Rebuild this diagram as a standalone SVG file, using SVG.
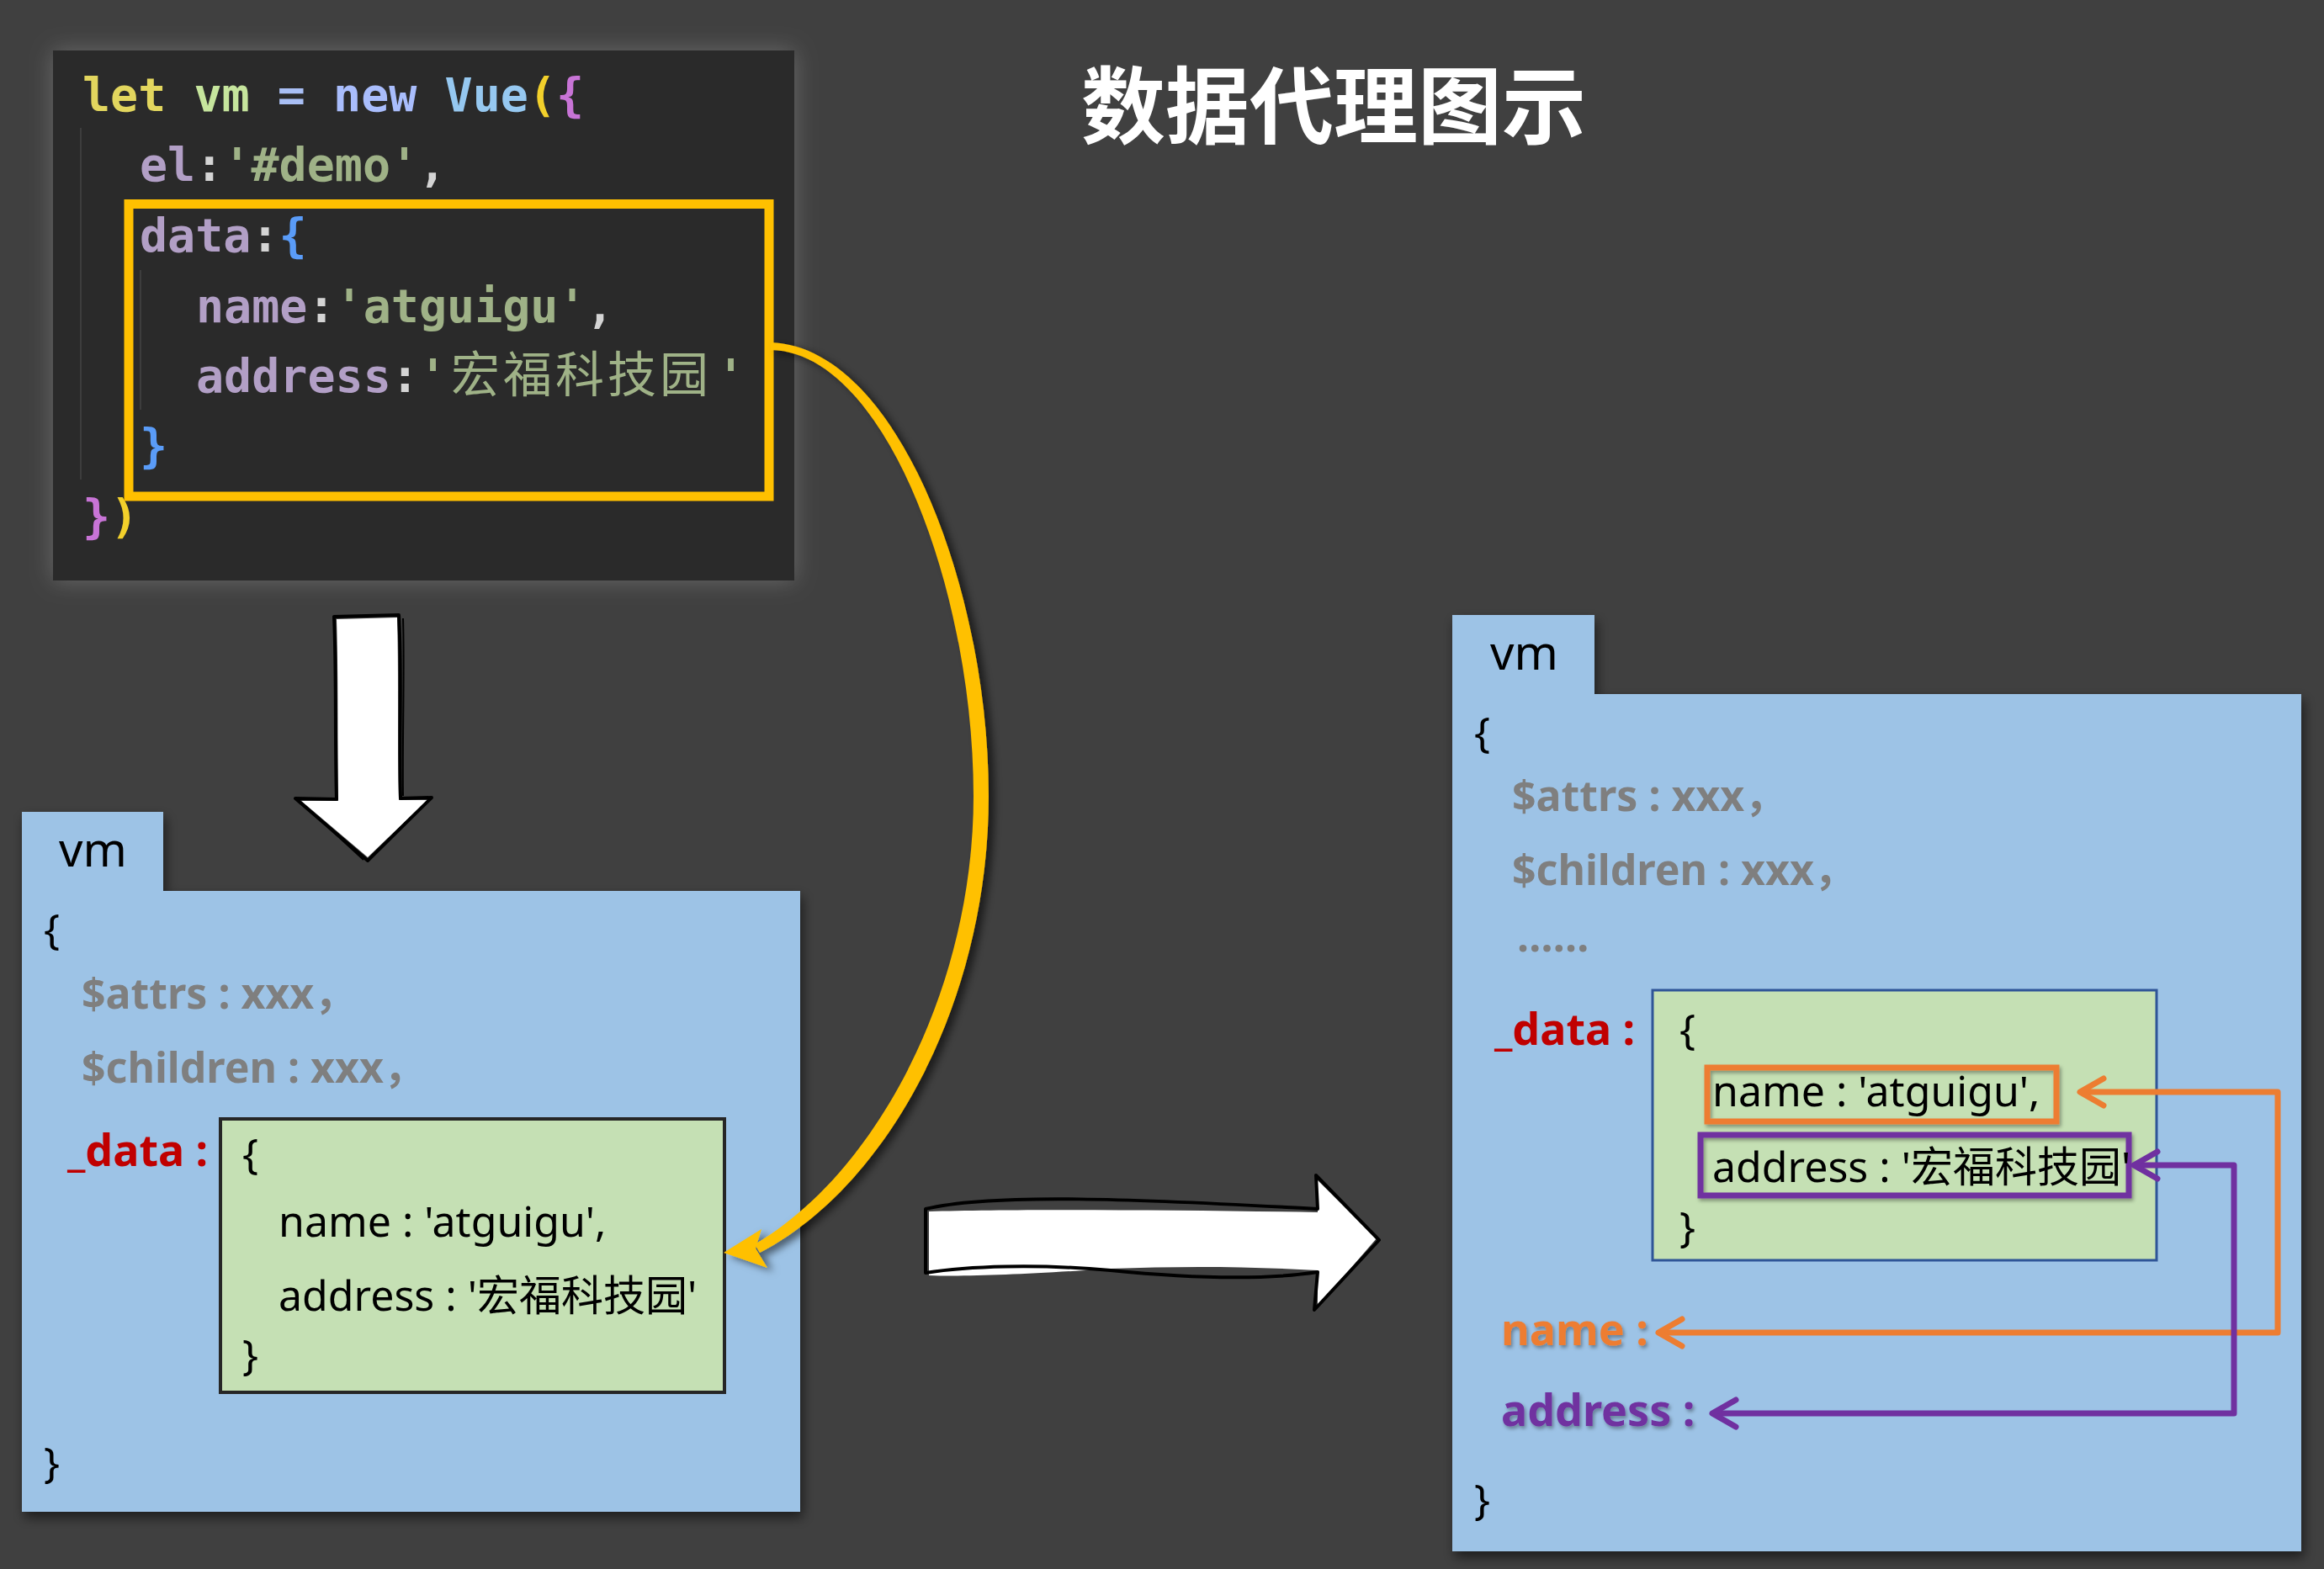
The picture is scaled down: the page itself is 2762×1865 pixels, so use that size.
<svg xmlns="http://www.w3.org/2000/svg" width="2762" height="1865" viewBox="0 0 2762 1865">
<defs>
<style>
.code{font-family:"DejaVu Sans Mono","Liberation Mono",monospace;font-size:55px;font-weight:bold}
.cjkcode{font-family:"Noto Sans CJK SC",sans-serif;font-size:58px;font-weight:normal;letter-spacing:4px}
.t{font-family:"Noto Sans","Noto Sans CJK SC",sans-serif;font-size:50px;fill:#000}
.g{font-family:"Noto Sans","Noto Sans CJK SC",sans-serif;font-size:50px;font-weight:bold;fill:#7f7f7f}
.red{font-family:"Noto Sans",sans-serif;font-size:52px;font-weight:bold;fill:#c00000}
.vm{font-family:"Noto Sans",sans-serif;font-size:56px;fill:#000}
.box{fill:#9dc3e6}
.kw{fill:#e2d65e}.v{fill:#c6e59d}.op{fill:#a9bff5}.nw{fill:#a9bdfc}.cl{fill:#96c8f0}
.py{fill:#f2d02b}.pm{fill:#c874d6}.pr{fill:#b29fc6}.pu{fill:#d4d4d4}.st{fill:#9fb287}.bb{fill:#5a9cf8}
</style>
<filter id="sh" x="-10%" y="-10%" width="120%" height="125%"><feDropShadow dx="3" dy="7" stdDeviation="7" flood-color="#000" flood-opacity="0.55"/></filter>
<filter id="glow" x="-10%" y="-10%" width="120%" height="120%"><feDropShadow dx="0" dy="0" stdDeviation="14" flood-color="#fff" flood-opacity="0.22"/></filter>
<filter id="ts" x="-10%" y="-20%" width="120%" height="150%"><feDropShadow dx="2" dy="3" stdDeviation="2" flood-color="#000" flood-opacity="0.35"/></filter>
<filter id="ysh" x="-20%" y="-10%" width="140%" height="120%"><feDropShadow dx="7" dy="4" stdDeviation="5" flood-color="#000" flood-opacity="0.55"/></filter>
<marker id="mo" viewBox="-40 -22 50 44" refX="0" refY="0" markerWidth="50" markerHeight="44" markerUnits="userSpaceOnUse" orient="auto-start-reverse" overflow="visible"><path d="M -28 -16 L 0 0 L -28 16" fill="none" stroke="#ed7d31" stroke-width="7" stroke-linecap="round" stroke-linejoin="round"/></marker>
<marker id="mp" viewBox="-40 -22 50 44" refX="0" refY="0" markerWidth="50" markerHeight="44" markerUnits="userSpaceOnUse" orient="auto-start-reverse" overflow="visible"><path d="M -28 -16 L 0 0 L -28 16" fill="none" stroke="#7030a0" stroke-width="7" stroke-linecap="round" stroke-linejoin="round"/></marker>
</defs>
<rect x="0" y="0" width="2762" height="1865" fill="#404040"/>

<g id="title">
<text x="1585" y="163" text-anchor="middle" font-family="'Noto Sans CJK SC',sans-serif" font-size="100" font-weight="bold" fill="#fff">数据代理图示</text>
</g>

<g id="code-block">
<rect x="63" y="60" width="881" height="630" fill="#2b2b2b" filter="url(#glow)"/>
<line x1="96" y1="152" x2="96" y2="570" stroke="#3d3d3d" stroke-width="2"/>
<line x1="167" y1="321" x2="167" y2="487" stroke="#3d3d3d" stroke-width="2"/>
<text class="code" x="98" y="132" xml:space="preserve"><tspan class="kw">let</tspan> <tspan class="v">vm</tspan> <tspan class="op">=</tspan> <tspan class="nw">new</tspan> <tspan class="cl">Vue</tspan><tspan class="py">(</tspan><tspan class="pm">{</tspan></text>
<text class="code" x="166" y="215"><tspan class="pr">el</tspan><tspan class="pu">:</tspan><tspan class="st">'#demo'</tspan><tspan class="pu">,</tspan></text>
<text class="code" x="166" y="299"><tspan class="pr">data</tspan><tspan class="pu">:</tspan><tspan class="bb">{</tspan></text>
<text class="code" x="233" y="383"><tspan class="pr">name</tspan><tspan class="pu">:</tspan><tspan class="st">'atguigu'</tspan><tspan class="pu">,</tspan></text>
<text class="code" x="233" y="466"><tspan class="pr">address</tspan><tspan class="pu">:</tspan><tspan class="st">'</tspan><tspan class="cjkcode st" x="536">宏福科技园</tspan><tspan class="st" x="852">'</tspan></text>
<text class="code bb" x="166" y="549">}</text>
<text class="code" x="98" y="633"><tspan class="pm">}</tspan><tspan class="py">)</tspan></text>
<rect x="153" y="242.5" width="761" height="347.5" fill="none" stroke="#ffc000" stroke-width="11"/>
</g>

<g id="vm-left">
<path class="box" d="M 26 965 L 194 965 L 194 1059 L 951 1059 L 951 1797 L 26 1797 Z" filter="url(#sh)"/>
<text class="vm" x="70" y="1030">vm</text>
<text class="t" x="52" y="1122">{</text>
<text class="g" x="97" y="1199">$attrs : xxx，</text>
<text class="g" x="97" y="1287">$children : xxx，</text>
<text class="red" x="80" y="1386">_data :</text>
<rect x="262" y="1330" width="599" height="325" fill="#c5e0b4" stroke="#262626" stroke-width="4"/>
<text class="t" x="288" y="1389">{</text>
<text class="t" x="331" y="1470">name : 'atguigu',</text>
<text class="t" x="331" y="1558">address : '宏福科技园'</text>
<text class="t" x="288" y="1628">}</text>
<text class="t" x="52" y="1756">}</text>
</g>

<g id="vm-right">
<path class="box" d="M 1726 731 L 1895 731 L 1895 825 L 2735 825 L 2735 1844 L 1726 1844 Z" filter="url(#sh)"/>
<text class="vm" x="1771" y="796">vm</text>
<text class="t" x="1752" y="888">{</text>
<text class="g" x="1797" y="964">$attrs : xxx，</text>
<text class="g" x="1797" y="1052">$children : xxx，</text>
<text class="g" x="1803" y="1131">……</text>
<text class="red" x="1776" y="1242">_data :</text>
<rect x="1964" y="1177" width="599" height="321" fill="#c5e0b4" stroke="#2f5597" stroke-width="3"/>
<text class="t" x="1996" y="1241">{</text>
<rect x="2029" y="1269" width="415" height="64" fill="none" stroke="#ed7d31" stroke-width="7" filter="url(#ts)"/>
<text class="t" x="2035" y="1315">name : 'atguigu',</text>
<rect x="2021" y="1349" width="509" height="72" fill="none" stroke="#7030a0" stroke-width="7" filter="url(#ts)"/>
<text class="t" x="2035" y="1405">address : '宏福科技园'</text>
<text class="t" x="1996" y="1476">}</text>
<text x="1784" y="1599" font-family="'Noto Sans',sans-serif" font-size="52" font-weight="bold" fill="#ed7d31" filter="url(#ts)">name :</text>
<text x="1784" y="1695" font-family="'Noto Sans',sans-serif" font-size="52" font-weight="bold" fill="#7030a0" filter="url(#ts)">address :</text>
<text class="t" x="1752" y="1800">}</text>
</g>

<g id="connectors">
<g filter="url(#ysh)">
<path d="M 916 407 C 1066 412, 1175 700, 1175 946 C 1175 1186, 1058 1408, 903 1489 L 897 1479 C 1042 1394, 1157 1176, 1157 946 C 1157 702, 1052 418, 916 416 Z" fill="#ffc000"/>
<polygon points="860,1489 905,1461 898,1484 912,1507" fill="#ffc000"/>
</g>
<path d="M 400 736 L 472 734 C 474 800, 472 880, 474 951 L 508 951 L 437 1019 L 358 952 L 402 952 C 401 880, 402 800, 400 736 Z" fill="#fff"/>
<path d="M 397 733 L 474 731 C 478 800, 474 880, 476 949 L 513 948 L 437 1023 L 351 949 L 400 950 C 398 880, 400 800, 397 733 Z" fill="none" stroke="#000" stroke-width="4" stroke-linejoin="round"/>
<path d="M 479 735 C 481 800, 478 880, 479 946" fill="none" stroke="#000" stroke-width="2"/>
<path d="M 356 952 L 432 1022" fill="none" stroke="#000" stroke-width="2"/>
<path d="M 1104 1440 C 1200 1437, 1400 1438, 1566 1441 L 1566 1403 L 1636 1472 L 1566 1553 L 1566 1510 C 1480 1505, 1400 1505, 1320 1508 C 1230 1514, 1150 1518, 1104 1516 Z" fill="#fff"/>
<path d="M 1100 1437 C 1180 1418, 1350 1425, 1566 1437 L 1564 1397 L 1639 1474 L 1562 1557 L 1566 1512 C 1500 1522, 1420 1520, 1320 1510 C 1230 1502, 1150 1505, 1100 1513 Z" fill="none" stroke="#000" stroke-width="4" stroke-linejoin="round"/>
<path d="M 2472 1298 L 2707 1298 L 2707 1584 L 1971 1584" fill="none" stroke="#ed7d31" stroke-width="7" stroke-linejoin="round" marker-start="url(#mo)" marker-end="url(#mo)"/>
<path d="M 2536 1385 L 2655 1385 L 2655 1680 L 2035 1680" fill="none" stroke="#7030a0" stroke-width="7" stroke-linejoin="round" marker-start="url(#mp)" marker-end="url(#mp)"/>
</g>
</svg>
